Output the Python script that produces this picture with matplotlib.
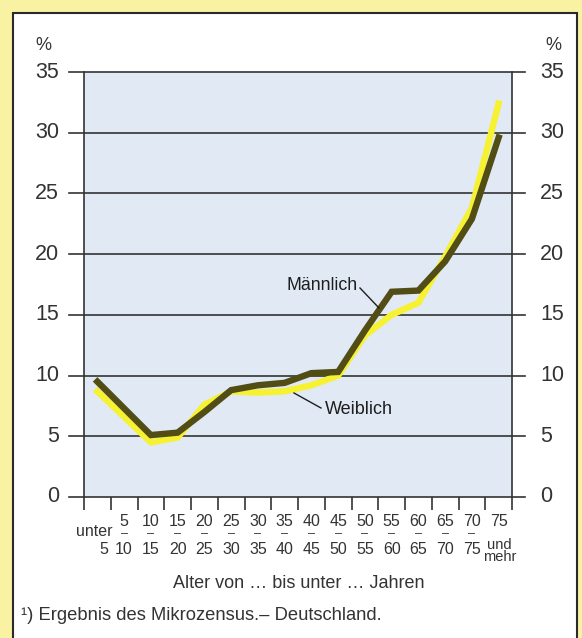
import matplotlib
matplotlib.use("Agg")
import matplotlib.pyplot as plt
from matplotlib.patches import Rectangle

W, H = 582, 638

# age groups (lower bound, upper bound)
age_top = ["unter", "5", "10", "15", "20", "25", "30", "35", "40", "45", "50",
           "55", "60", "65", "70", "75"]
age_bottom = ["5", "10", "15", "20", "25", "30", "35", "40", "45", "50", "55",
              "60", "65", "70", "75", "und\nmehr"]
male = [9.5, 7.3, 5.1, 5.3, 7.0, 8.8, 9.2, 9.4, 10.2, 10.3, 13.7, 16.9, 17.0,
        19.4, 22.9, 29.6]
female = [8.7, 6.6, 4.5, 4.9, 7.6, 8.7, 8.6, 8.7, 9.2, 10.0, 13.3, 15.0, 16.0,
          19.8, 23.8, 32.4]
y_ticks = [0, 5, 10, 15, 20, 25, 30, 35]

plt.rcParams["font.family"] = ["Liberation Sans", "DejaVu Sans"]
TXT = "#333333"


def fx(x):
    return x / W


def fy(y):
    return 1 - y / H


fig = plt.figure(figsize=(W / 100, H / 100), dpi=100)
fig.patch.set_facecolor("#f8f2a2")
fig.patches.append(Rectangle((fx(13), fy(645)), fx(577) - fx(13), fy(13) - fy(645),
                             transform=fig.transFigure, facecolor="white",
                             edgecolor="#2a2a2a", linewidth=1.5, zorder=-5))

left, right, top, bottom = 84, 512, 72, 497
ax = fig.add_axes([fx(left), fy(bottom), fx(right) - fx(left), fy(top) - fy(bottom)])
ax.set_zorder(2)
ax.set_facecolor("#e0e9f4")
ax.set_xlim(0, len(male))
ax.set_ylim(0, 35)

x = [i + 0.5 for i in range(len(male))]
ax.plot(x, female, color="#f6f232", lw=4.6, solid_joinstyle="miter", zorder=3)
ax.plot(x, male, color="#514d15", lw=4.6, solid_joinstyle="miter", zorder=4)

# horizontal rules sticking out past the frame
for v in y_ticks:
    ax.plot([-0.035, 1.03], [v / 35, v / 35], transform=ax.transAxes,
            color="#333333", lw=1.2, clip_on=False, zorder=2)
    yp = bottom - v / 35 * (bottom - top)
    fig.text(fx(59), fy(yp), str(v), ha="right", va="center", fontsize=15.5, color=TXT)
    fig.text(fx(540), fy(yp), str(v), ha="left", va="center", fontsize=15.5, color=TXT)
fig.text(fx(43), fy(45), "%", ha="center", va="center", fontsize=13, color=TXT)
fig.text(fx(553), fy(45), "%", ha="center", va="center", fontsize=13, color=TXT)

for s in ["top", "bottom"]:
    ax.spines[s].set_visible(False)
for s in ["left", "right"]:
    ax.spines[s].set_color("#333333")
    ax.spines[s].set_linewidth(1.2)
ax.set_yticks([])
ax.set_xticks(range(len(male) + 1))
ax.set_xticklabels([])
ax.tick_params(axis="x", direction="out", length=9.5, width=1.2, color="#333333")

# two-line age labels between the ticks
for i, (a, b) in enumerate(zip(age_top, age_bottom)):
    xp = left + (i + 0.5) * (right - left) / len(male)
    if i == 0:
        fig.text(fx(xp - 3), fy(532), a, ha="center", va="center", fontsize=11.5, color=TXT)
        fig.text(fx(xp + 6), fy(550), b, ha="center", va="center", fontsize=11.5, color=TXT)
        continue
    fig.text(fx(xp), fy(522), a, ha="center", va="center", fontsize=11.5, color=TXT)
    if i == len(male) - 1:
        fig.text(fx(xp + 1), fy(551), b, ha="center", va="center", fontsize=10.5,
                 color=TXT, linespacing=0.85)
        continue
    fig.text(fx(xp), fy(534), "–", ha="center", va="center", fontsize=9, color=TXT)
    fig.text(fx(xp), fy(550), b, ha="center", va="center", fontsize=11.5, color=TXT)

# series labels with leader lines
fig.text(fx(286), fy(286), "Männlich", ha="left", va="center", fontsize=12.8,
         color="#1e1e1e", zorder=5)
fig.lines.append(plt.Line2D([fx(360), fx(379)], [fy(288), fy(308)],
                            transform=fig.transFigure, color="#1e1e1e", lw=1.0, zorder=5))
fig.text(fx(325), fy(410), "Weiblich", ha="left", va="center", fontsize=13,
         color="#1e1e1e", zorder=5)
fig.lines.append(plt.Line2D([fx(294), fx(321)], [fy(393), fy(408)],
                            transform=fig.transFigure, color="#1e1e1e", lw=1.0, zorder=5))

fig.text(fx(299), fy(584), "Alter von … bis unter … Jahren", ha="center", va="center",
         fontsize=13, color=TXT)
fig.text(fx(21), fy(616), "¹) Ergebnis des Mikrozensus.– Deutschland.", ha="left",
         va="center", fontsize=13.2, color=TXT)

fig.savefig("out.png", dpi=100, facecolor=fig.get_facecolor())
